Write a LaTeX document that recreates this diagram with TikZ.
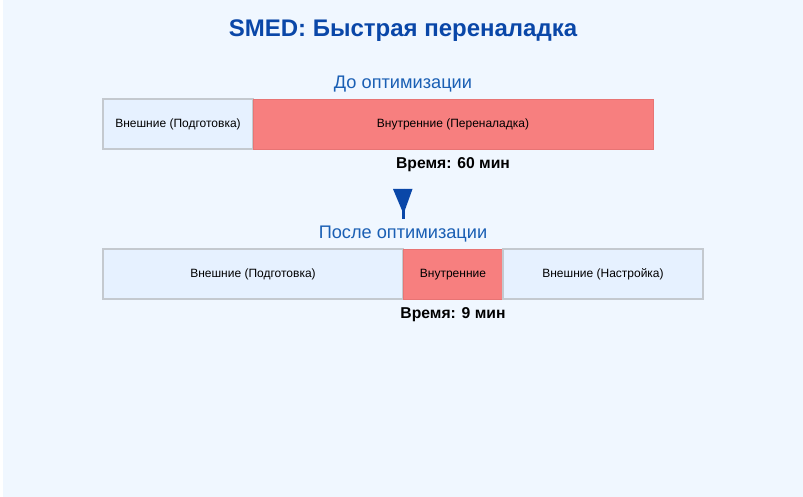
\documentclass[tikz,border=0pt]{standalone}
\usepackage{fontspec}
\setmainfont{Liberation Sans}
\usetikzlibrary{positioning}

\definecolor{pagebg}{HTML}{F0F7FF}
\definecolor{titleblue}{HTML}{0A47A8}
\definecolor{subblue}{HTML}{1A5FB4}
\definecolor{extfill}{HTML}{E6F1FF}
\definecolor{extline}{HTML}{C4C9CF}
\definecolor{intfill}{HTML}{F77F7F}
\definecolor{intline}{HTML}{E87474}

\begin{document}
\begin{tikzpicture}[x=1pt, y=-1pt,
  extbox/.style={draw=extline, fill=extfill, line width=1.2pt, outer sep=0pt, minimum height=50pt, inner sep=0pt, text height=9pt, text depth=2.5pt, font=\fontsize{12}{14}\selectfont},
  intbox/.style={draw=intline, fill=intfill, line width=0.6pt, outer sep=0pt, minimum height=50pt, inner sep=0pt, text height=9pt, text depth=2.5pt, font=\fontsize{12}{14}\selectfont},
  subtitle/.style={text=subblue, font=\fontsize{18.2}{21}\selectfont},
  timelbl/.style={font=\bfseries\fontsize{15.7}{18}\selectfont}]
  \useasboundingbox (0,0) rectangle (803,497);
  \fill[pagebg] (3,0) rectangle (803,497);

  \node[text=titleblue, font=\bfseries\fontsize{24}{28}\selectfont] (title) at (403,31) {SMED: Быстрая переналадка};

  % before
  \node[subtitle] (before) at (403,84) {До оптимизации};
  \node[extbox, minimum width=150pt, anchor=north west] (ext1) at (103,99) {Внешние (Подготовка)};
  \node[intbox, minimum width=400pt, right=0pt of ext1] (int1) {Внутренние (Переналадка)};
  \node[timelbl, below=5pt of int1] (time1) {Время: 60 мин};

  % arrow
  \coordinate (arrtop) at (403,189);
  \coordinate (arrend) at (403,219);
  \draw[titleblue, line width=3pt] (arrtop) -- (arrend);
  \fill[titleblue] (393,189) -- (412.5,189) -- (403.5,214) -- cycle;

  % after
  \node[subtitle] (after) at (403,234) {После оптимизации};
  \node[extbox, minimum width=300pt, anchor=north west] (ext2) at (103,249) {Внешние (Подготовка)};
  \node[intbox, minimum width=100pt, right=0pt of ext2] (int2) {Внутренние};
  \node[extbox, minimum width=200pt, right=0pt of int2] (ext3) {Внешние (Настройка)};
  \node[timelbl, below=5pt of int2] (time2) {Время: 9 мин};
\end{tikzpicture}
\end{document}
